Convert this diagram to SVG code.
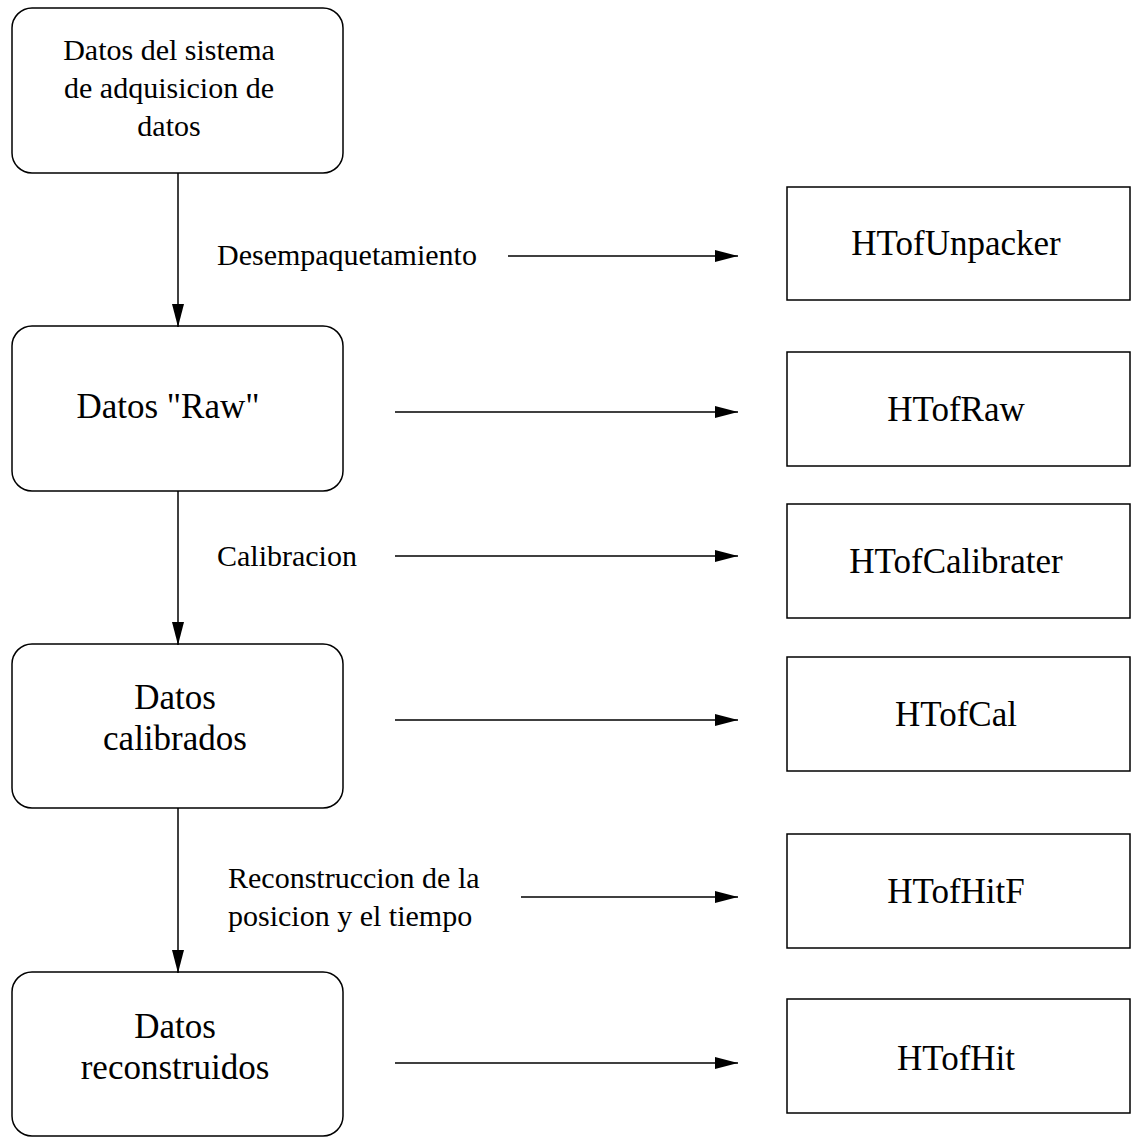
<svg xmlns="http://www.w3.org/2000/svg" width="1131" height="1137" viewBox="0 0 1131 1137">
  <style>
    .stage { fill: #ffffff; stroke: #000000; stroke-width: 1.5; }
    .cls { fill: #ffffff; stroke: #000000; stroke-width: 1.5; }
    .edge { fill: none; stroke: #000000; stroke-width: 1.5; marker-end: url(#head); }
    text { font-family: "Liberation Serif", "Times New Roman", serif; fill: #000000; }
    .big { font-size: 35px; text-anchor: middle; }
    .mid { font-size: 30px; text-anchor: middle; }
    .lbl { font-size: 30px; }
  </style>
  <defs>
    <marker id="head" markerUnits="userSpaceOnUse" markerWidth="23" markerHeight="12" refX="23" refY="6" orient="auto">
      <path d="M0,0 L23,6 L0,12 Z" fill="#000000"/>
    </marker>
  </defs>
  <rect width="1131" height="1137" fill="#ffffff"/>

  <!-- data stages (left column) -->
  <g id="daq">
    <rect class="stage" x="12" y="8" width="331" height="165" rx="20" ry="20"/>
    <text class="mid" x="169" y="60">Datos del sistema</text>
    <text class="mid" x="169" y="98">de adquisicion de</text>
    <text class="mid" x="169" y="136">datos</text>
  </g>
  <g id="raw">
    <rect class="stage" x="12" y="326" width="331" height="165" rx="20" ry="20"/>
    <text class="big" x="168" y="418">Datos "Raw"</text>
  </g>
  <g id="calibrated">
    <rect class="stage" x="12" y="644" width="331" height="164" rx="20" ry="20"/>
    <text class="big" x="175" y="709">Datos</text>
    <text class="big" x="175" y="750">calibrados</text>
  </g>
  <g id="reconstructed">
    <rect class="stage" x="12" y="972" width="331" height="164" rx="20" ry="20"/>
    <text class="big" x="175" y="1038">Datos</text>
    <text class="big" x="175" y="1079">reconstruidos</text>
  </g>

  <!-- classes (right column) -->
  <g id="unpacker">
    <rect class="cls" x="787" y="187" width="343" height="113"/>
    <text class="big" x="956" y="255">HTofUnpacker</text>
  </g>
  <g id="htofraw">
    <rect class="cls" x="787" y="352" width="343" height="114"/>
    <text class="big" x="956" y="421">HTofRaw</text>
  </g>
  <g id="calibrater">
    <rect class="cls" x="787" y="504" width="343" height="114"/>
    <text class="big" x="956" y="573">HTofCalibrater</text>
  </g>
  <g id="htofcal">
    <rect class="cls" x="787" y="657" width="343" height="114"/>
    <text class="big" x="956" y="726">HTofCal</text>
  </g>
  <g id="hitf">
    <rect class="cls" x="787" y="834" width="343" height="114"/>
    <text class="big" x="956" y="903">HTofHitF</text>
  </g>
  <g id="htofhit">
    <rect class="cls" x="787" y="999" width="343" height="114"/>
    <text class="big" x="956" y="1070">HTofHit</text>
  </g>

  <!-- step labels -->
  <g id="labels">
    <text class="lbl" x="217" y="265">Desempaquetamiento</text>
    <text class="lbl" x="217" y="566">Calibracion</text>
    <text class="lbl" x="228" y="888">Reconstruccion de la</text>
    <text class="lbl" x="228" y="926">posicion y el tiempo</text>
  </g>

  <!-- connectors -->
  <g id="connectors">
    <line class="edge" x1="178" y1="173" x2="178" y2="327"/>
    <line class="edge" x1="178" y1="491" x2="178" y2="645"/>
    <line class="edge" x1="178" y1="808" x2="178" y2="973"/>
    <line class="edge" x1="508" y1="256" x2="738" y2="256"/>
    <line class="edge" x1="395" y1="412" x2="738" y2="412"/>
    <line class="edge" x1="395" y1="556" x2="738" y2="556"/>
    <line class="edge" x1="395" y1="720" x2="738" y2="720"/>
    <line class="edge" x1="521" y1="897" x2="738" y2="897"/>
    <line class="edge" x1="395" y1="1063" x2="738" y2="1063"/>
  </g>
</svg>
